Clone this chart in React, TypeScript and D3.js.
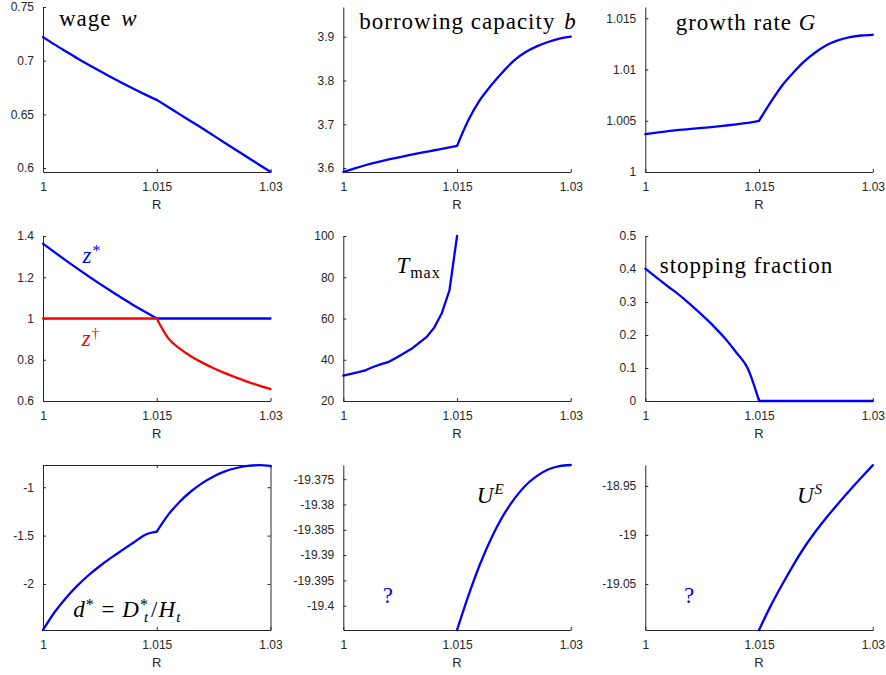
import { useEffect, useRef } from "react";
import * as d3 from "d3";

// grid of interest rates R
const R = [1, 1.0015, 1.003, 1.0045, 1.006, 1.0075, 1.009, 1.0105, 1.012, 1.0135, 1.015,
  1.0165, 1.018, 1.0195, 1.021, 1.0225, 1.024, 1.0255, 1.027, 1.0285, 1.03];
const R_TMAX = [1, 1.001, 1.002, 1.003, 1.004, 1.005, 1.006, 1.007, 1.008, 1.009, 1.01,
  1.011, 1.012, 1.013, 1.014, 1.015];
const R_KINK = 1.015;

const xTicks = [1, 1.015, 1.03];
const xTickLabels = ["1", "1.015", "1.03"];

const wage = [0.722, 0.7152, 0.7087, 0.7023, 0.6962, 0.6903, 0.6846, 0.679, 0.6736, 0.6684, 0.6635,
  0.6568, 0.6502, 0.6436, 0.637, 0.6302, 0.6234, 0.6166, 0.6098, 0.6031, 0.5965];
const borrowing = [3.591, 3.5995, 3.607, 3.6136, 3.6196, 3.6252, 3.6305, 3.6357, 3.6407, 3.6457, 3.6506,
  3.7096, 3.755, 3.789, 3.819, 3.8457, 3.8646, 3.878, 3.8881, 3.8957, 3.9001];
const growth = [1.0037, 1.00385, 1.00398, 1.0041, 1.0042, 1.0043, 1.0044, 1.00452, 1.00465, 1.0048, 1.005,
  1.00677, 1.00839, 1.00968, 1.01081, 1.01171, 1.01242, 1.01287, 1.01316, 1.01332, 1.01339];
const zStar = [1.363, 1.322, 1.282, 1.243, 1.205, 1.168, 1.132, 1.097, 1.063, 1.031, 1.0,
  1, 1, 1, 1, 1, 1, 1, 1, 1, 1];
const zDagger = [1, 1, 1, 1, 1, 1, 1, 1, 1, 1, 1,
  0.905, 0.855, 0.817, 0.786, 0.759, 0.735, 0.713, 0.693, 0.675, 0.658, 0.642];
const tMax = [32.3, 33.1, 34.0, 35.0, 36.6, 37.9, 39.0, 41.0, 43.1, 45.3, 48.2, 51.1, 55.6, 62.7, 73.7, 100];
const stopping = [0.401, 0.374, 0.347, 0.321, 0.291, 0.26, 0.227, 0.19, 0.147, 0.099, 0,
  0, 0, 0, 0, 0, 0, 0, 0, 0, 0];
const dStar = [-2.476, -2.295, -2.147, -2.02, -1.91, -1.814, -1.728, -1.648, -1.569, -1.491, -1.46,
  -1.286, -1.152, -1.044, -0.957, -0.888, -0.836, -0.801, -0.78, -0.772, -0.78];
const uE = [null, null, null, null, null, null, null, null, null, null, -19.4048,
  -19.398, -19.3919, -19.3867, -19.3824, -19.379, -19.3763, -19.3744, -19.3731, -19.3724, -19.3722];
const uS = [null, null, null, null, null, null, null, null, null, null, -19.097,
  -19.0729, -19.0513, -19.031, -19.0123, -18.996, -18.9812, -18.9674, -18.9541, -18.9414, -18.9288];

const BLUE = "#0000ff";
const RED = "#ff0000";
const AX = "#262626";
const SANS = "'Liberation Sans', Arial, Helvetica, sans-serif";
const SERIF = "'Liberation Serif', 'Times New Roman', serif";

const COL_X = [43, 343.3, 645.3];
const ROW_Y = [7, 236, 465];
const PW = 227.5;
const PH = 165;

type Part = { t: string; i?: boolean; shift?: number; size?: number; dx?: number };
type Label = { x: number; y: number; color: string; parts: Part[] };
type Series = { xs: number[]; ys: (number | null)[]; color: string; straight?: boolean };
type Panel = {
  col: number; row: number; yDomain: [number, number]; yTicks: number[]; yLabels: string[];
  series: Series[]; labels: Label[]; box?: boolean;
};

const panels: Panel[] = [
  {
    col: 0, row: 0, yDomain: [0.5963, 0.75], yTicks: [0.6, 0.65, 0.7, 0.75], yLabels: ["0.6", "0.65", "0.7", "0.75"],
    series: [{ xs: R, ys: wage, color: BLUE }],
    labels: [{ x: 1.0021, y: 0.7323, color: "#000", parts: [{ t: "wage " }, { t: "w", i: true, dx: 3 }] }],
  },
  {
    col: 1, row: 0, yDomain: [3.591, 3.968], yTicks: [3.6, 3.7, 3.8, 3.9], yLabels: ["3.6", "3.7", "3.8", "3.9"],
    series: [{ xs: R, ys: borrowing, color: BLUE }],
    labels: [{ x: 1.0021, y: 3.9177, color: "#000", parts: [{ t: "borrowing capacity " }, { t: "b", i: true, dx: 2 }] }],
  },
  {
    col: 2, row: 0, yDomain: [1, 1.0161], yTicks: [1, 1.005, 1.01, 1.015], yLabels: ["1", "1.005", "1.01", "1.015"],
    series: [{ xs: R, ys: growth, color: BLUE }],
    labels: [{ x: 1.004, y: 1.01386, color: "#000", parts: [{ t: "growth rate " }, { t: "G", i: true }] }],
  },
  {
    col: 0, row: 1, yDomain: [0.6, 1.4], yTicks: [0.6, 0.8, 1, 1.2, 1.4], yLabels: ["0.6", "0.8", "1", "1.2", "1.4"],
    series: [{ xs: R, ys: zStar, color: BLUE }, { xs: R, ys: zDagger, color: RED }],
    labels: [
      { x: 1.0052, y: 1.2691, color: BLUE, parts: [{ t: "z", i: true }, { t: "*", shift: -7, size: 16 }] },
      { x: 1.0051, y: 0.8667, color: RED, parts: [{ t: "z", i: true }, { t: "†", shift: -8, size: 15 }] },
    ],
  },
  {
    col: 1, row: 1, yDomain: [20, 100], yTicks: [20, 40, 60, 80, 100], yLabels: ["20", "40", "60", "80", "100"],
    series: [{ xs: R_TMAX, ys: tMax, color: BLUE, straight: true }],
    labels: [{ x: 1.007, y: 81.9, color: "#000", parts: [{ t: "T", i: true }, { t: "max", shift: 5, size: 16 }] }],
  },
  {
    col: 2, row: 1, yDomain: [0, 0.5], yTicks: [0, 0.1, 0.2, 0.3, 0.4, 0.5], yLabels: ["0", "0.1", "0.2", "0.3", "0.4", "0.5"],
    series: [{ xs: R, ys: stopping, color: BLUE }],
    labels: [{ x: 1.0019, y: 0.3888, color: "#000", parts: [{ t: "stopping fraction" }] }],
  },
  {
    col: 0, row: 2, yDomain: [-2.476, -0.77], yTicks: [-2, -1.5, -1], yLabels: ["-2", "-1.5", "-1"], box: true,
    series: [{ xs: R, ys: dStar, color: BLUE }],
    labels: [{
      x: 1.004, y: -2.3385, color: "#000", parts: [
        { t: "d", i: true }, { t: "*", shift: -7, size: 16 }, { t: " = ", shift: 0 }, { t: "D", i: true },
        { t: "*", shift: -7, size: 16 }, { t: "t", i: true, shift: 5, size: 15, dx: -5 }, { t: "/", shift: 0, dx: 2 },
        { t: "H", i: true }, { t: "t", i: true, shift: 5, size: 15 },
      ],
    }],
  },
  {
    col: 1, row: 2, yDomain: [-19.4048, -19.3722], yTicks: [-19.4, -19.395, -19.39, -19.385, -19.38, -19.375],
    yLabels: ["-19.4", "-19.395", "-19.39", "-19.385", "-19.38", "-19.375"],
    series: [{ xs: R, ys: uE, color: BLUE }],
    labels: [
      { x: 1.0176, y: -19.3798, color: "#000", parts: [{ t: "U", i: true }, { t: "E", i: true, shift: -9, size: 15 }] },
      { x: 1.0052, y: -19.3994, color: BLUE, parts: [{ t: "?" }] },
    ],
  },
  {
    col: 2, row: 2, yDomain: [-19.097, -18.9286], yTicks: [-19.05, -19, -18.95], yLabels: ["-19.05", "-19", "-18.95"],
    series: [{ xs: R, ys: uS, color: BLUE }],
    labels: [
      { x: 1.02, y: -18.9677, color: "#000", parts: [{ t: "U", i: true }, { t: "S", i: true, shift: -9, size: 15 }] },
      { x: 1.0051, y: -19.0691, color: BLUE, parts: [{ t: "?" }] },
    ],
  },
];

export default function App() {
  const svgRef = useRef<SVGSVGElement>(null);

  useEffect(() => {
    const svg = d3.select(svgRef.current);
    svg.selectAll("*").remove();
    svg.append("rect").attr("width", 886).attr("height", 675).attr("fill", "#fff");

    const styleAxis = (ax: any) => {
      ax.select(".domain").attr("stroke", AX).attr("stroke-width", 1);
      ax.selectAll(".tick line").attr("stroke", AX).attr("stroke-width", 1);
      ax.selectAll("text").attr("fill", AX).attr("font-size", 12).attr("font-family", SANS);
    };

    panels.forEach((p) => {
      const g = svg.append("g").attr("transform", `translate(${COL_X[p.col]},${ROW_Y[p.row]})`);
      const x = d3.scaleLinear().domain([1, 1.03]).range([0, PW]);
      const y = d3.scaleLinear().domain(p.yDomain).range([PH, 0]);

      if (p.box) {
        g.append("g")
          .call(d3.axisTop(x).tickValues(xTicks).tickFormat(() => "").tickSizeInner(-3).tickSizeOuter(0))
          .call(styleAxis);
        g.append("g").attr("transform", `translate(${PW},0)`)
          .call(d3.axisRight(y).tickValues(p.yTicks).tickFormat(() => "").tickSizeInner(-3).tickSizeOuter(0))
          .call(styleAxis);
      }

      g.append("g").attr("transform", `translate(0,${PH})`)
        .call(d3.axisBottom(x).tickValues(xTicks).tickFormat((d, i) => xTickLabels[i]).tickSizeInner(-3).tickSizeOuter(0).tickPadding(10))
        .call(styleAxis);
      g.append("g")
        .call(d3.axisLeft(y).tickValues(p.yTicks).tickFormat((d, i) => p.yLabels[i]).tickSizeInner(-3).tickSizeOuter(0).tickPadding(9))
        .call(styleAxis);

      g.append("text").attr("x", PW / 2).attr("y", PH + 37).attr("text-anchor", "middle")
        .attr("fill", AX).attr("font-size", 13).attr("font-family", SANS).text("R");

      p.series.forEach((s) => {
        const pts = s.xs.map((xv, i) => [xv, s.ys[i]] as [number, number | null]);
        // the regime switch at R = 1.015 is a kink, so smooth each side on its own
        const segs = s.straight
          ? [pts]
          : [pts.filter((d) => d[0] <= R_KINK), pts.filter((d) => d[0] >= R_KINK)];
        const line = d3.line<[number, number | null]>()
          .defined((d) => d[1] != null)
          .x((d) => x(d[0]))
          .y((d) => y(d[1] as number))
          .curve(s.straight ? d3.curveLinear : d3.curveMonotoneX);
        segs.forEach((seg) => {
          g.append("path").datum(seg).attr("fill", "none").attr("stroke", s.color)
            .attr("stroke-width", 2.3).attr("stroke-linejoin", "round").attr("stroke-linecap", "round")
            .attr("d", line);
        });
      });

      p.labels.forEach((lb) => {
        const t = g.append("text").attr("x", x(lb.x)).attr("y", y(lb.y)).attr("fill", lb.color)
          .attr("font-family", SERIF).attr("font-size", 23).attr("letter-spacing", 1);
        let cur = 0;
        lb.parts.forEach((pt) => {
          const shift = pt.shift ?? cur;
          const ts = t.append("tspan").text(pt.t);
          if (shift !== cur) ts.attr("dy", shift - cur);
          if (pt.dx) ts.attr("dx", pt.dx);
          if (pt.i) ts.attr("font-style", "italic");
          if (pt.size) ts.attr("font-size", pt.size);
          cur = shift;
        });
      });
    });
  }, []);

  return (
    <div style={{ position: "absolute", left: 0, top: 0 }}>
      <svg ref={svgRef} width={886} height={675} style={{ display: "block" }} />
    </div>
  );
}
